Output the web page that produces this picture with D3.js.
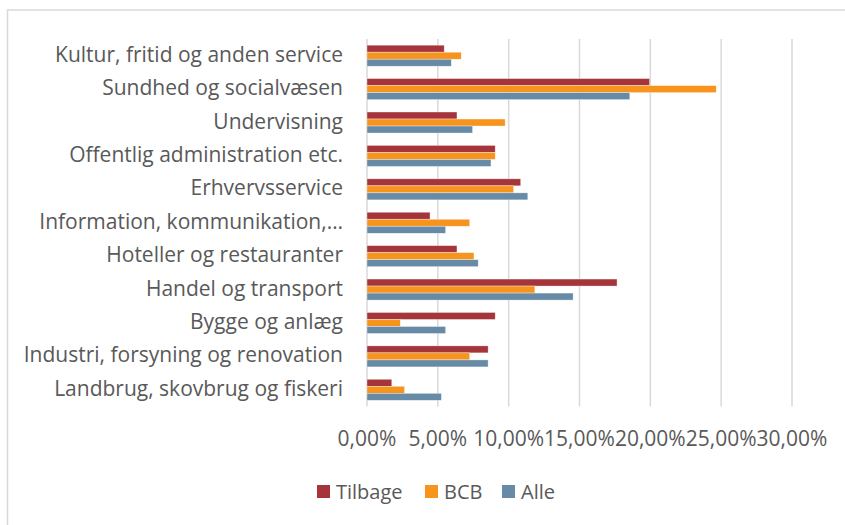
<!DOCTYPE html>
<html>
<head>
<meta charset="utf-8">
<script src="https://cdn.jsdelivr.net/npm/d3@7"></script>
<style>
  body { margin: 0; background: #fff; }
  svg text { font-family: "Open Sans", sans-serif; fill: #595959; }
</style>
</head>
<body>
<div id="chart"></div>
<script>
// categories, bottom to top as in the source sheet
const categories = [
    "Landbrug, skovbrug og fiskeri",
    "Industri, forsyning og renovation",
    "Bygge og anlæg",
    "Handel og transport",
    "Hoteller og restauranter",
    "Information, kommunikation,…",
    "Erhvervsservice",
    "Offentlig administration etc.",
    "Undervisning",
    "Sundhed og socialvæsen",
    "Kultur, fritid og anden service"
];
const tilbage = [1.75, 8.55, 9.05, 17.65, 6.35, 4.45, 10.85, 9.05, 6.35, 19.95, 5.45];
const bcb     = [2.65, 7.25, 2.35, 11.85, 7.55, 7.25, 10.35, 9.05, 9.75, 24.65, 6.65];
const alle    = [5.25, 8.55, 5.55, 14.55, 7.85, 5.55, 11.35, 8.75, 7.45, 18.55, 5.95];
const seriesNames = ["Tilbage", "BCB", "Alle"];
const seriesColors = ["#a5353a", "#f7941d", "#678aa6"];
const xTicks = [0, 5, 10, 15, 20, 25, 30];

const W = 845, H = 525;
const plot = { left: 367, right: 792, top: 39, bottom: 406.5 };

const svg = d3.select("#chart").append("svg")
    .attr("width", W)
    .attr("height", H);

// chart frame (runs off the right and bottom edges)
svg.append("rect")
    .attr("x", 7.5).attr("y", 10)
    .attr("width", W + 10).attr("height", H + 10)
    .attr("fill", "none")
    .attr("stroke", "#d9d9d9")
    .attr("stroke-width", 1.5);

const x = d3.scaleLinear().domain([0, 30]).range([plot.left, plot.right]);

// top category first
const y = d3.scaleBand()
    .domain(categories.slice().reverse())
    .range([plot.top, plot.bottom])
    .paddingInner(0.37)
    .paddingOuter(0.185);

const ySub = d3.scaleBand()
    .domain(seriesNames)
    .range([0, y.bandwidth()]);

// gridlines
svg.append("g")
    .selectAll("line")
    .data(xTicks)
    .join("line")
    .attr("x1", d => x(d)).attr("x2", d => x(d))
    .attr("y1", plot.top).attr("y2", plot.bottom)
    .attr("stroke", "#d9d9d9")
    .attr("stroke-width", 1.5);

const rows = categories.map((c, i) => ({
    cat: c,
    vals: [tilbage[i], bcb[i], alle[i]]
}));

const groups = svg.append("g")
    .selectAll("g")
    .data(rows)
    .join("g")
    .attr("transform", d => "translate(0," + y(d.cat) + ")");

groups.selectAll("rect")
    .data(d => d.vals.map((v, j) => ({ name: seriesNames[j], v: v, color: seriesColors[j] })))
    .join("rect")
    .attr("x", x(0))
    .attr("y", d => ySub(d.name))
    .attr("width", d => x(d.v) - x(0))
    .attr("height", ySub.bandwidth())
    .attr("fill", d => d.color)
    .attr("stroke", "rgba(255,255,255,0.6)")
    .attr("stroke-width", 0.6);

// category labels
svg.append("g")
    .selectAll("text")
    .data(categories)
    .join("text")
    .attr("x", 343)
    .attr("y", d => y(d) + y.bandwidth() / 2 + 6)
    .attr("text-anchor", "end")
    .style("font-size", "21px")
    .text(d => d);

// x tick labels
const fmt = v => d3.format(".2f")(v).replace(".", ",") + "%";
svg.append("g")
    .selectAll("text")
    .data(xTicks)
    .join("text")
    .attr("x", d => x(d))
    .attr("y", 446)
    .attr("text-anchor", "middle")
    .style("font-size", "21px")
    .text(fmt);

// legend
const legendX = [317, 425, 502];
const legend = svg.append("g")
    .selectAll("g")
    .data(seriesNames)
    .join("g")
    .attr("transform", (d, i) => "translate(" + legendX[i] + ",485)");

legend.append("rect")
    .attr("width", 13).attr("height", 13)
    .attr("fill", (d, i) => seriesColors[i]);

legend.append("text")
    .attr("x", 19)
    .attr("y", 13.5)
    .style("font-size", "20px")
    .text(d => d);
</script>
</body>
</html>
